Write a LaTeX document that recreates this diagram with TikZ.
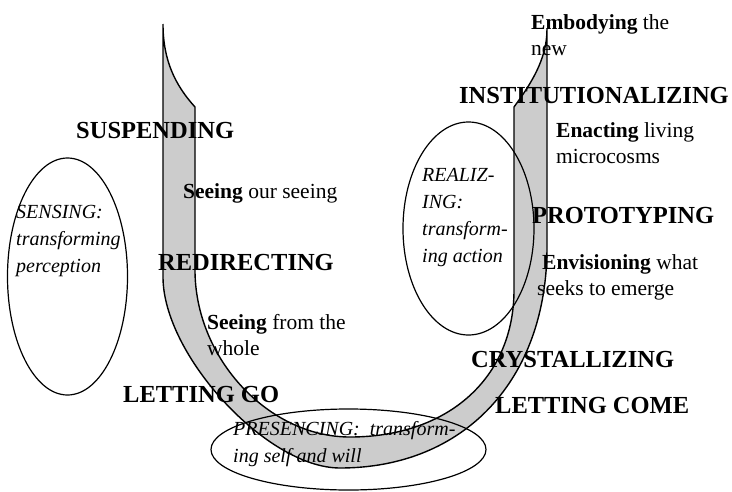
\documentclass[tikz,border=0pt]{standalone}
\usepackage{fontspec}
\setmainfont{Liberation Serif}

\begin{document}
\begin{tikzpicture}[x=1pt,y=-1pt,
    stage/.style={anchor=base west, inner sep=0pt, font=\fontsize{24.5}{29}\selectfont\bfseries},
    act/.style={anchor=base west, inner sep=0pt, align=left, font=\fontsize{21.5}{26}\selectfont},
    field/.style={anchor=base west, inner sep=0pt, align=left, font=\fontsize{20}{26.8}\selectfont\itshape},
    rim/.style={line width=1.2pt}]

    \useasboundingbox (0,0) rectangle (732,491);

    % The U
    \draw[rim, line width=1.4pt, fill=gray!40] (163,24) -- (163,277)
        .. controls (163,355) and (267,468) .. (340,468)
        .. controls (464,468) and (547,380) .. (547,247)
        -- (547,29) .. controls (547,60) and (530,85) .. (514,107)
        -- (514,290) .. controls (514,378) and (448,437) .. (350,437)
        .. controls (268,437) and (195,358) .. (195,270)
        -- (195,107) .. controls (175,85) and (163,60) .. (163,24) -- cycle;

    % Fields
    \draw[rim] (67.5,276.5) ellipse [x radius=60, y radius=118.5];
    \draw[rim] (468.5,228.5) ellipse [x radius=65.5, y radius=106.5];
    \draw[rim] (348.5,449.5) ellipse [x radius=137.5, y radius=40.5];

    % Left side (multi-line texts sit on their last baseline)
    \node[stage] (suspend) at (76,138) {SUSPENDING};
    \node[act] (seeseeing) at (183,198) {\textbf{Seeing} our seeing};
    \node[field] (sensing) at (16,272) {SENSING:\\transforming\\perception};
    \node[stage] (redirect) at (158,270) {REDIRECTING};
    \node[act] (seewhole) at (207,355) {\textbf{Seeing} from the\\whole};
    \node[stage] (lettinggo) at (123,402) {LETTING GO};

    % Bottom
    \node[field] (presence) at (233,462) {PRESENCING:\ \ transform-\\ing self and will};

    % Right side
    \node[act] (embody) at (531,55) {\textbf{Embodying} the\\new};
    \node[stage] (instit) at (459,103) {INSTITUTIONALIZING};
    \node[act] (enact) at (556,163) {\textbf{Enacting} living\\microcosms};
    \node[field] (realize) at (422,262) {REALIZ-\\ING:\\transform-\\ing action};
    \node[stage] (proto) at (532,223) {PROTOTYPING};
    \node[act] (envision) at (537,295) {\hspace*{5pt}\textbf{Envisioning} what\\seeks to emerge};
    \node[stage] (crystal) at (471,367) {CRYSTALLIZING};
    \node[stage] (lettingcome) at (495,413) {LETTING COME};
\end{tikzpicture}
\end{document}
